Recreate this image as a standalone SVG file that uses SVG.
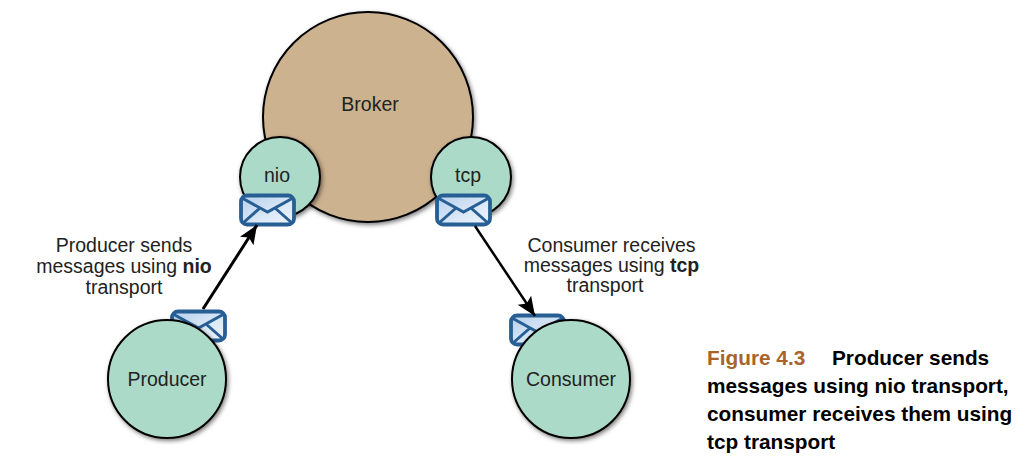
<svg xmlns="http://www.w3.org/2000/svg" width="1031" height="469" viewBox="0 0 1031 469">
<defs>
<linearGradient id="env" x1="0" y1="0" x2="1" y2="1"><stop offset="0" stop-color="#b4cfec"/><stop offset="0.6" stop-color="#dce9f7"/><stop offset="1" stop-color="#eef4fb"/></linearGradient>
<filter id="sh" x="-15%" y="-15%" width="130%" height="130%"><feDropShadow dx="1.5" dy="2" stdDeviation="2" flood-color="#000" flood-opacity="0.5"/></filter>
<marker id="ah" markerUnits="userSpaceOnUse" markerWidth="22" markerHeight="18" refX="19" refY="9" orient="auto"><path d="M0,1 L19,9 L0,17 L4,9 Z" fill="#000"/></marker>
<g id="envelope"><rect x="-26" y="-14.5" width="53" height="29" rx="6" fill="url(#env)" stroke="#275f95" stroke-width="3.8"/><path d="M-25,-12 L0.5,2 L26,-12 M-24,13 L-7,-2 M25,13 L8,-2" fill="none" stroke="#275f95" stroke-width="3"/></g>
</defs>
<style>
.l{font-family:"Liberation Sans",Arial,sans-serif;font-size:19.5px;fill:#222;text-anchor:middle}
.n{fill:#acdac9;stroke:#000;stroke-width:2;filter:url(#sh)}
.c{font-family:"Liberation Sans",Arial,sans-serif;font-size:20.8px;font-weight:bold;fill:#000}
.f{fill:#a8642c}
</style>
<rect width="1031" height="469" fill="#fff"/>
<g id="broker"><circle cx="368" cy="117" r="105" fill="#ccb28f" stroke="#000" stroke-width="2" filter="url(#sh)"/><text class="l" x="370" y="111">Broker</text></g>
<g id="nio"><circle cx="280" cy="177" r="40" class="n"/><text class="l" x="277" y="182">nio</text><use href="#envelope" x="267" y="210"/></g>
<g id="tcp"><circle cx="471" cy="177" r="40" class="n"/><text class="l" x="468" y="182">tcp</text><use href="#envelope" x="463" y="210"/></g>
<g id="producer-envelope"><use href="#envelope" x="198" y="326"/></g>
<g id="consumer-envelope"><use href="#envelope" x="537" y="330"/></g>
<g id="connectors" fill="none" stroke="#000" stroke-width="3">
<line x1="203" y1="309" x2="257" y2="225" marker-end="url(#ah)"/>
<line x1="475" y1="226" x2="535" y2="316" stroke-width="2.5" marker-end="url(#ah)"/>
</g>
<g id="producer"><circle cx="167" cy="379" r="59" class="n"/><text class="l" x="167" y="386">Producer</text></g>
<g id="consumer"><circle cx="571" cy="379" r="59" class="n"/><text class="l" x="571" y="386">Consumer</text></g>
<g id="labels">
<text class="l" x="124" y="252">Producer sends</text>
<text class="l" x="124" y="273">messages using <tspan font-weight="bold">nio</tspan></text>
<text class="l" x="124" y="294">transport</text>
<text class="l" x="611.5" y="252">Consumer receives</text>
<text class="l" x="611.5" y="272">messages using <tspan font-weight="bold">tcp</tspan></text>
<text class="l" x="605" y="292">transport</text>
</g>
<g id="caption">
<text class="c f" x="707" y="365">Figure 4.3</text>
<text class="c" x="832" y="365">Producer sends</text>
<text class="c" x="707" y="393">messages using nio transport,</text>
<text class="c" x="707" y="421">consumer receives them using</text>
<text class="c" x="707" y="449">tcp transport</text>
</g>
</svg>
